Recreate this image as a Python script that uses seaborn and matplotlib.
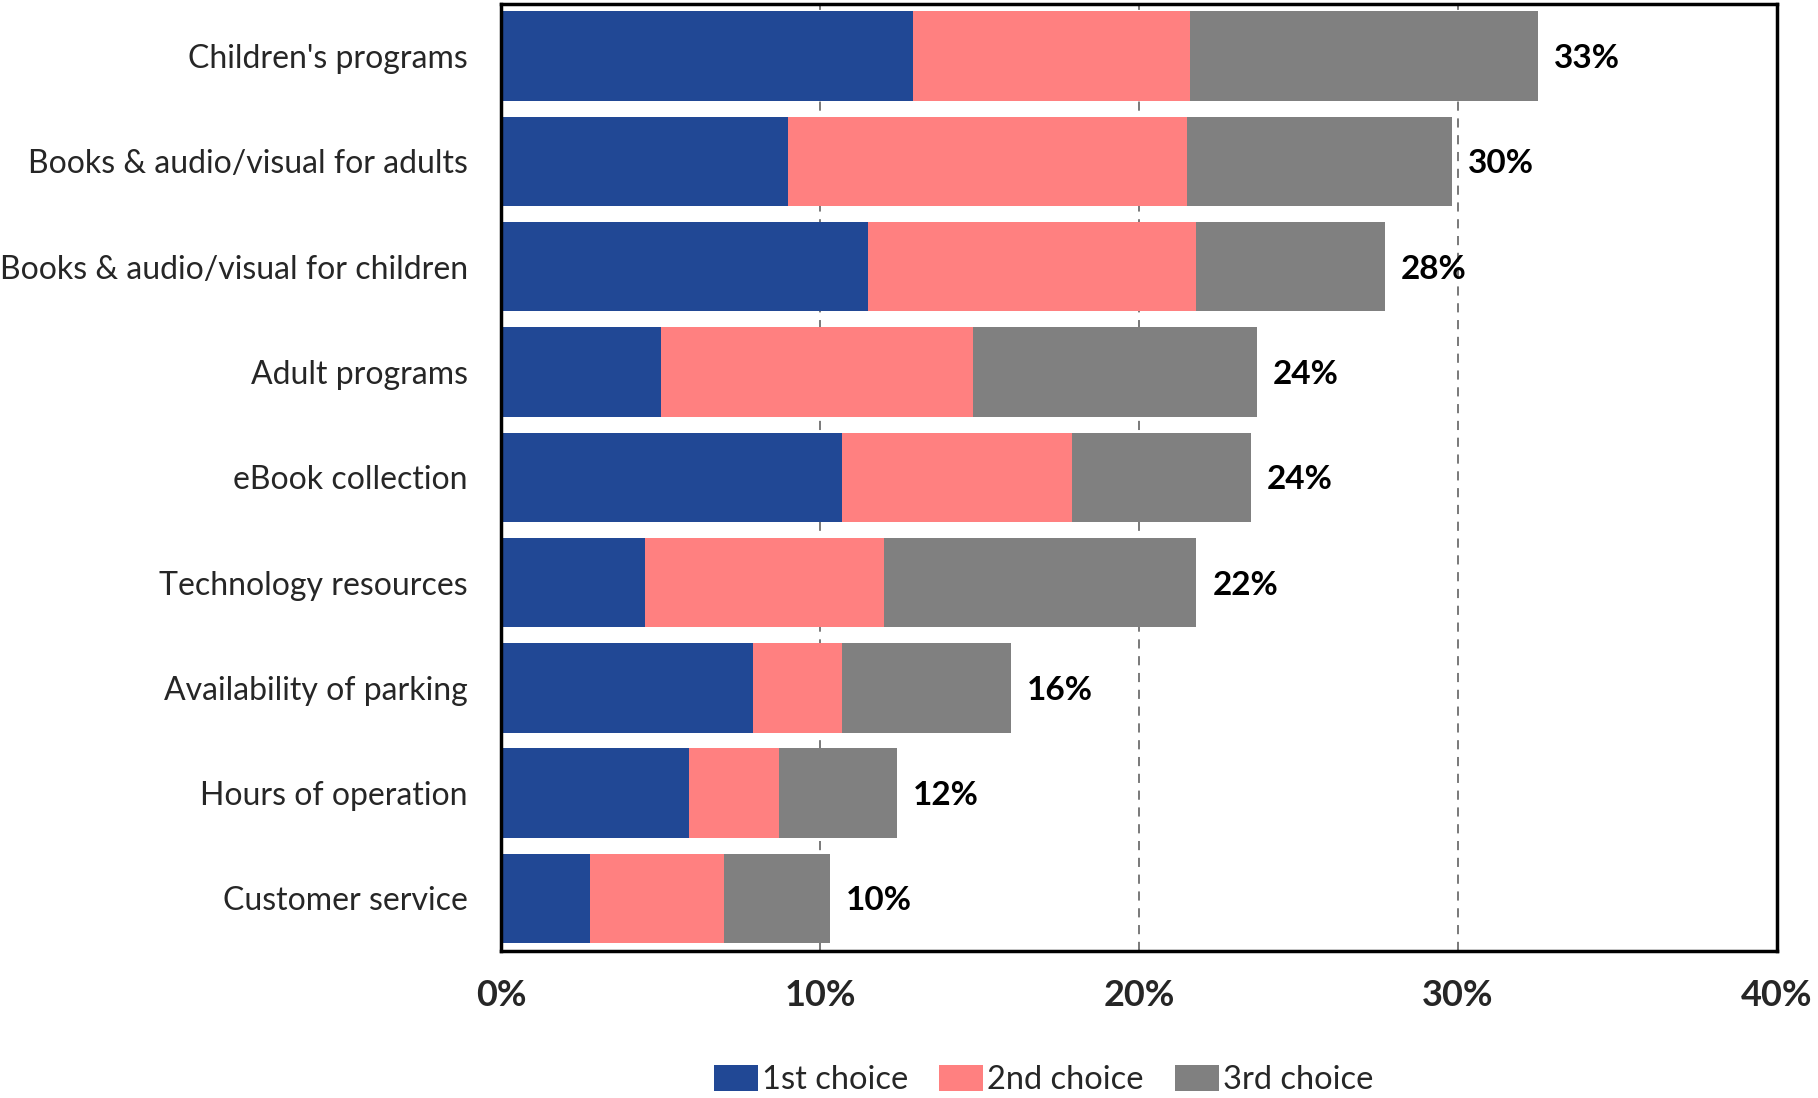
import matplotlib
matplotlib.use("Agg")
import matplotlib.pyplot as plt
import seaborn as sns
import numpy as np
import pandas as pd
from matplotlib.patches import Patch

categories = ["Children's programs", "Books & audio/visual for adults",
              "Books & audio/visual for children", "Adult programs",
              "eBook collection", "Technology resources",
              "Availability of parking", "Hours of operation", "Customer service"]
first_choice = [12.9, 9.0, 11.5, 5.0, 10.7, 4.5, 7.9, 5.9, 2.8]
second_choice = [8.7, 12.5, 10.3, 9.8, 7.2, 7.5, 2.8, 2.8, 4.2]
third_choice = [10.9, 8.3, 5.9, 8.9, 5.6, 9.8, 5.3, 3.7, 3.3]
total_labels = ["33%", "30%", "28%", "24%", "24%", "22%", "16%", "12%", "10%"]
series_names = ["1st choice", "2nd choice", "3rd choice"]
colors = ["#214895", "#FF8080", "#808080"]

sns.set_theme(style="white")
plt.rcParams['font.family'] = ['Lato', 'DejaVu Sans']

df = pd.DataFrame({"cat": categories,
                   "c1": first_choice,
                   "c2": np.array(first_choice) + np.array(second_choice),
                   "c3": np.array(first_choice) + np.array(second_choice) + np.array(third_choice)})

fig = plt.figure(figsize=(18.18, 10.98), dpi=100)
ax = fig.add_axes([0.2756, 0.1339, 0.7018, 0.8629])

for col, c in zip(["c3", "c2", "c1"], colors[::-1]):
    sns.barplot(data=df, x=col, y="cat", color=c, width=0.85, ax=ax,
                saturation=1, linewidth=0, orient="h")

for i, (tot, lab) in enumerate(zip(df["c3"], total_labels)):
    ax.text(tot + 0.5, i, lab, va="center_baseline", ha="left", fontsize=24,
            fontweight="bold", color="black")

ax.set_xlim(0, 40)
ax.set_ylim(8.5, -0.5)
ax.set_xticks([0, 10, 20, 30, 40])
ax.set_xticklabels(["0%", "10%", "20%", "30%", "40%"], fontsize=26, fontweight="bold")
ax.tick_params(axis="y", labelsize=23, length=0, pad=24)
ax.tick_params(axis="x", length=0, pad=20)
ax.set_xlabel("")
ax.set_ylabel("")
for x in [10, 20, 30]:
    ax.axvline(x, color="#555555", linestyle=(0, (6, 5)), linewidth=1.1, zorder=0)
for s in ax.spines.values():
    s.set_visible(True)
    s.set_color("black")
    s.set_linewidth(2.5)

handles = [Patch(facecolor=c, edgecolor="none", label=n) for c, n in zip(colors, series_names)]
fig.legend(handles=handles, loc="lower center", bbox_to_anchor=(0.574, -0.024), ncol=3,
           frameon=False, fontsize=23.5, handlelength=1.35, handleheight=0.85,
           handletextpad=0.12, columnspacing=0.95)

fig.savefig("out.png", dpi=100)
